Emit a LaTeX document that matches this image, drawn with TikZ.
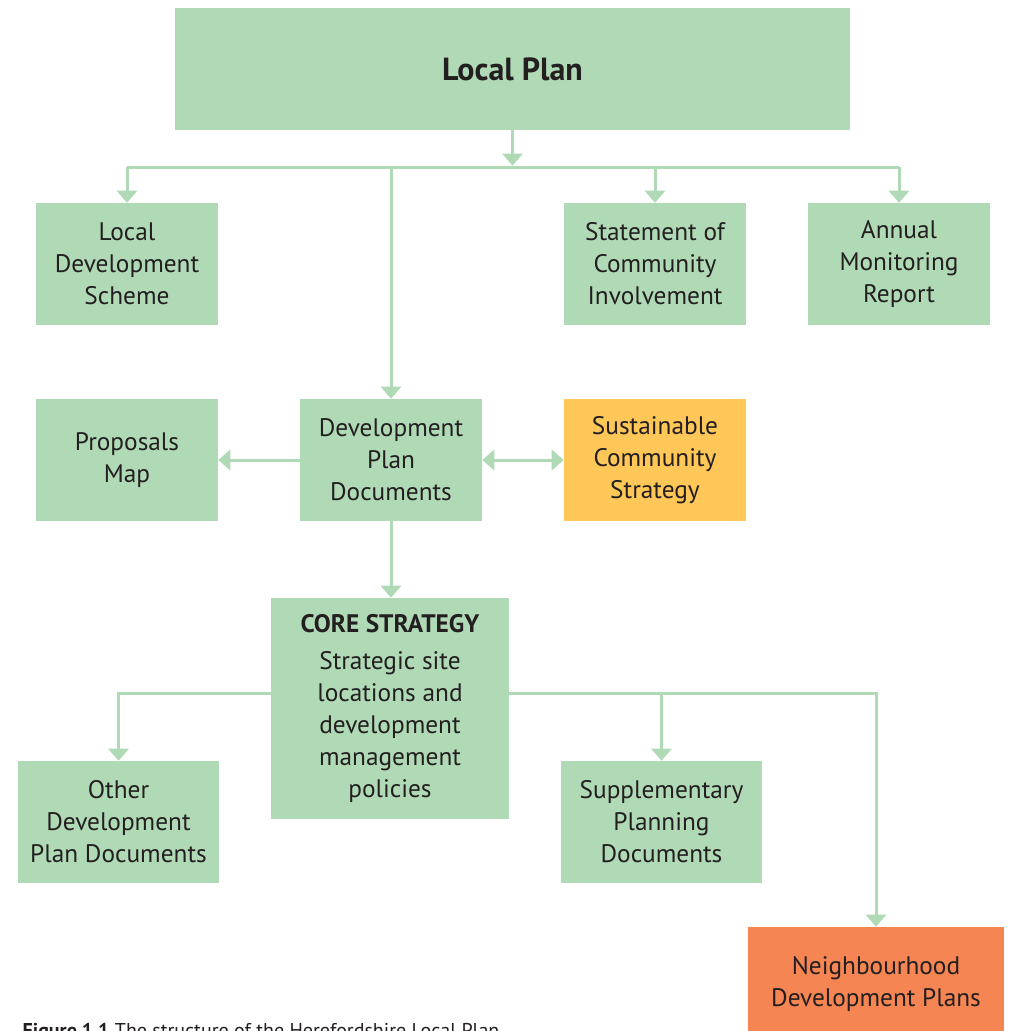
\documentclass[tikz,border=0pt]{standalone}
\usepackage{fontspec}
\setmainfont{PT Sans}
\usetikzlibrary{arrows.meta}
\definecolor{boxgreen}{RGB}{176,218,182}
\definecolor{boxamber}{RGB}{255,198,88}
\definecolor{boxcoral}{RGB}{245,133,82}
\definecolor{inktext}{RGB}{35,31,32}
\tikzset{
  planbox/.style={fill=boxgreen, text=inktext, align=center, inner sep=0pt,
    minimum width=136.5pt, minimum height=91.5pt,
    font=\fontsize{19}{24}\selectfont},
  wide/.style={minimum width=150.75pt},
  feed/.style={draw=boxgreen, line width=2.25pt},
  link/.style={feed, -{Triangle[width=15pt,length=9pt]}},
  both/.style={feed, {Triangle[width=15pt,length=9pt]}-{Triangle[width=15pt,length=9pt]}}
}
\begin{document}
\begin{tikzpicture}[x=0.75pt, y=-0.75pt]
	\useasboundingbox (0,0) rectangle (1009,1031);
	\clip (0,0) rectangle (1009,1031);

	\node [planbox, minimum width=506.25pt, font=\fontsize{24}{28}\selectfont\bfseries] (lp) at (512.5,69) {Local Plan};

	\node [planbox] (lds) at (127,264) {Local\\Development\\Scheme};
	\node [planbox] (sci) at (655,264) {Statement of\\Community\\Involvement};
	\node [planbox] (amr) at (899,264) {Annual\\Monitoring\\Report};

	\node [planbox] (pm)  at (127,460) {Proposals\\Map};
	\node [planbox] (dpd) at (391,460) {Development\\Plan\\Documents};
	\node [planbox, fill=boxamber] (scs) at (655,460) {Sustainable\\Community\\Strategy};

	\node [planbox, minimum width=178.5pt, minimum height=165.75pt] (cs) at (390,708.5)
		{\textbf{CORE STRATEGY}\\[4pt]Strategic site\\locations and\\development\\management\\policies};

	\node [planbox, wide] (odpd) at (118.5,822) {Other\\Development\\Plan Documents};
	\node [planbox, wide] (spd)  at (661.5,822) {Supplementary\\Planning\\Documents};
	\node [planbox, fill=boxcoral, minimum width=192pt, minimum height=85.5pt] (ndp) at (876,984) {Neighbourhood\\Development Plans};

	% top bar
	\coordinate (bar) at (512.5,167);
	\draw [feed] (lds.north |- bar) -- (amr.north |- bar);
	\draw [link] (lp.south) -- ([yshift=1pt]bar);
	\draw [link] (lds.north |- bar) -- (lds.north);
	\draw [link] (sci.north |- bar) -- (sci.north);
	\draw [link] (amr.north |- bar) -- (amr.north);
	\draw [link] (dpd.north |- bar) -- (dpd.north);

	% middle row
	\draw [link] (dpd.west) -- (pm.east);
	\draw [both] (dpd.east) -- (scs.west);
	\draw [link] (dpd.south) -- (dpd.south |- cs.north);

	% core strategy branches
	\coordinate (csl) at (271,693);
	\coordinate (csr) at (509,693);
	\draw [link] (csl) -| (odpd.north);
	\draw [link] (csr) -| (ndp.north);
	\draw [link] (csr -| spd.north) -- (spd.north);

	\node [anchor=base west, text=inktext, font=\fontsize{15}{18}\selectfont] (cap) at (18,1037)
		{\textbf{Figure 1.1} The structure of the Herefordshire Local Plan};
\end{tikzpicture}
\end{document}
